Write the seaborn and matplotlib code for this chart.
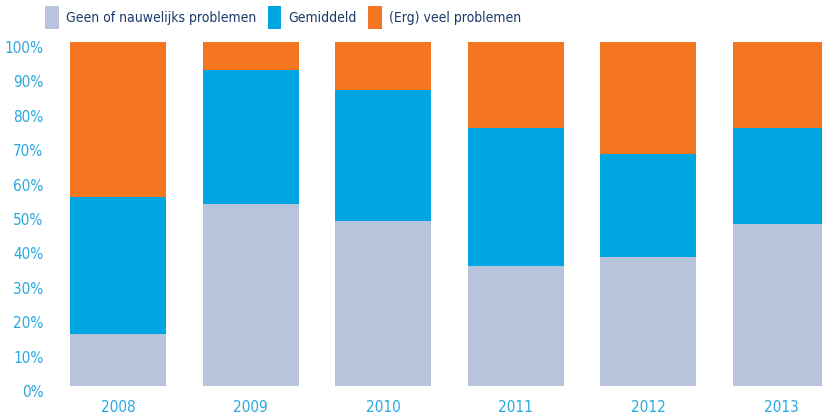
import pandas as pd
import seaborn as sns
import matplotlib.pyplot as plt
import matplotlib.transforms as mtransforms
from matplotlib import font_manager
from matplotlib.patches import Patch

# data (percent per year)
years = ['2008', '2009', '2010', '2011', '2012', '2013']
geen = [15, 53, 48, 35, 37.5, 47]        # Geen of nauwelijks problemen
gemiddeld = [40, 39, 38, 40, 30, 28]     # Gemiddeld
veel = [45, 8, 14, 25, 32.5, 25]         # (Erg) veel problemen
labels = ['Geen of nauwelijks problemen', 'Gemiddeld', '(Erg) veel problemen']
colors = ['#b8c4dc', '#00a5e1', '#f47621']

df = pd.DataFrame({'year': years, 'geen': geen, 'gemiddeld': gemiddeld, 'veel': veel})
df['cum1'] = df['geen']
df['cum2'] = df['geen'] + df['gemiddeld']
df['cum3'] = df['cum2'] + df['veel']

sns.set_style('white')
# the original uses a condensed face; use DejaVu Sans Condensed if it is there
path = font_manager.findfont(font_manager.FontProperties(family='DejaVu Sans', stretch='condensed'))
if 'Condensed' in path:
    plt.rcParams['font.family'] = ['DejaVu Sans']
    plt.rcParams['font.stretch'] = 'condensed'
    scale = 1.0
else:
    plt.rcParams['font.family'] = ['Roboto', 'DejaVu Sans']
    scale = 0.95

fig = plt.figure(figsize=(8.22, 4.2), dpi=100)
ax = fig.add_axes([70 / 822, 34 / 420, 752 / 822, 344 / 420])

# stacked look: draw cumulative totals, tallest first
for col, c in zip(['cum3', 'cum2', 'cum1'], colors[::-1]):
    sns.barplot(data=df, x='year', y=col, color=c, width=0.724,
                saturation=1, linewidth=0, ax=ax)

ax.set_xlim(-0.362, 5.309)
ax.set_ylim(0, 100)
ax.set_yticks(range(0, 101, 10))
ax.set_yticklabels([f'{v}%' for v in range(0, 101, 10)])
ax.set_xlabel('')
ax.set_ylabel('')
for s in ax.spines.values():
    s.set_visible(False)

tick_col = '#29a8e0'
ax.tick_params(axis='y', length=0, pad=19, labelsize=11 * scale, labelcolor=tick_col)
ax.tick_params(axis='x', length=0, pad=10, labelsize=11 * scale, labelcolor=tick_col)
off = mtransforms.ScaledTranslation(0, -5 / 100, fig.dpi_scale_trans)
for lab in ax.get_yticklabels():
    lab.set_transform(lab.get_transform() + off)

handles = [Patch(facecolor=c, edgecolor='none') for c in colors]
leg = fig.legend(handles, labels, ncol=3, frameon=False, loc='upper left',
                 bbox_to_anchor=(37 / 822, 1.0 + 2 / 420), fontsize=10 * scale,
                 handlelength=1.0, handleheight=2.1, handletextpad=0.5,
                 columnspacing=0.8, borderaxespad=0.2)
for t in leg.get_texts():
    t.set_color('#1b3a6b')

fig.savefig('out.png', dpi=100)
